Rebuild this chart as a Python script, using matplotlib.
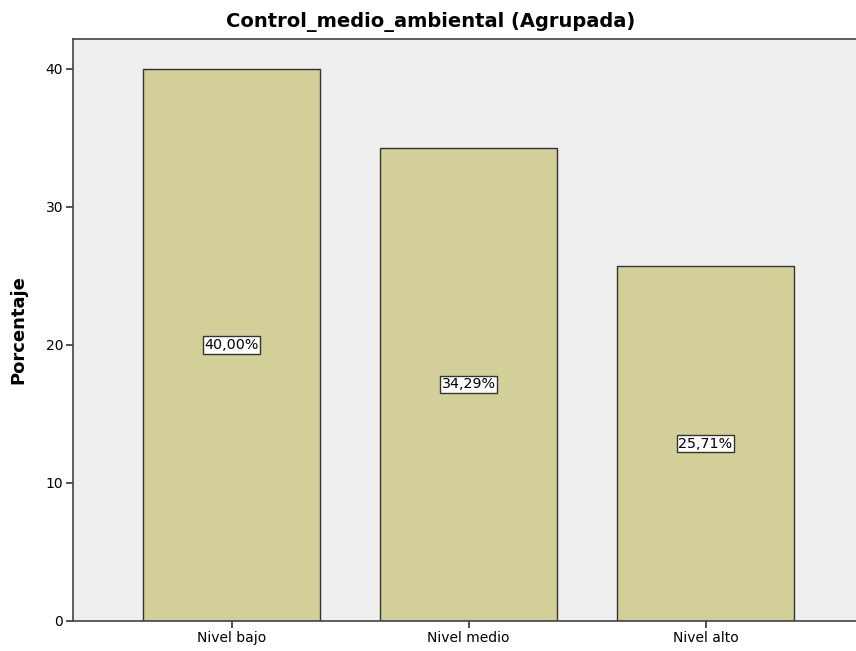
import matplotlib
matplotlib.use("Agg")
import matplotlib.pyplot as plt

# Frequency table (percent of cases per group)
categorias = ["Nivel bajo", "Nivel medio", "Nivel alto"]
porcentajes = [40.00, 34.29, 25.71]
y_ticks = [0, 10, 20, 30, 40]

fig = plt.figure(figsize=(8.56, 6.51), dpi=100)
ax = fig.add_axes([73 / 856, 30 / 651, 1 - 73 / 856, (621 - 39) / 651])

ax.set_facecolor("#efefef")
x = range(len(categorias))
ax.bar(x, porcentajes, width=0.747, color="#d3cf98",
       edgecolor="#333333", linewidth=1.0, zorder=2)

for xi, v in zip(x, porcentajes):
    ax.text(xi, v / 2, f"{v:.2f}%".replace(".", ","), ha="center", va="center",
            fontsize=10.3, zorder=3,
            bbox=dict(boxstyle="square,pad=0.12", facecolor="white",
                      edgecolor="#333333", linewidth=1.0))

ax.set_xlim(-0.669, 2.635)
ax.set_ylim(0, 42.17)
ax.set_xticks(list(x))
ax.set_xticklabels(categorias, fontsize=10)
ax.set_yticks(y_ticks)
ax.set_yticklabels([str(t) for t in y_ticks], fontsize=10)
ax.tick_params(direction="out", length=5, width=1.2, color="#333333", pad=2)

for side in ("left", "bottom", "top"):
    ax.spines[side].set_color("#444444")
    ax.spines[side].set_linewidth(1.2)
ax.spines["right"].set_visible(False)

ax.set_ylabel("Porcentaje", fontsize=13, fontweight="bold", labelpad=13)
fig.text(0.503, 1 - 22 / 651, "Control_medio_ambiental (Agrupada)",
         ha="center", va="center", fontsize=14, fontweight="bold")

fig.savefig("out.png", dpi=100)
